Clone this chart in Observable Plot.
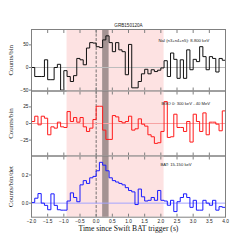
<!DOCTYPE html>
<html><head><meta charset="utf-8">
<script src="https://cdn.jsdelivr.net/npm/d3@7"></script>
<script src="https://cdn.jsdelivr.net/npm/@observablehq/plot@0.6"></script>
<style>
html,body{margin:0;padding:0;background:#fff;}
#chart{position:relative;width:249px;height:249px;overflow:hidden;}
#chart svg{position:absolute;left:0;top:0;}
</style></head><body><div id="chart"></div>
<script>
const title = "GRB150120A";
const xLabel = "Time since Swift BAT trigger (s)";
const binStart = -2.0;
const binWidth = 0.1;
const naiCounts = [0,-20,-20,-20,17,-27,-27,0,7,-50, -7,-20,-31,-18,20,17,6,43,55,54, 46,44,61,70,55,35,55,39,35,-16, 51,-45,-45,-31,-14,-4,-14,-5,-9,-6, -1,15,-20,32,18,-24,17,-24,39,-5, 18,13,46,24,-5,24,20,-10,20,16];
const naiOffChart = -80;
const bgoCounts = [3,11,-2,11,8,-17,-5,-7,2,-5, -6,18,3,9,2,9,-5,-12,-7,6, 26,26,-10,-24,-24,12,10,3,1,3, 11,-10,-8,7,-1,-4,-17,-20,-30,-29, -12,33,-21,-20,14,-6,-6,-12,3,-28, 14,3,-12,16,-17,2,2,-1,-11,19];
const batRate = [0.005,0.035,0.068,0.0,-0.016,-0.047,0.066,-0.016,-0.047,-0.05, -0.05,0.015,0.073,0.04,0.01,0.13,0.16,0.14,0.18,0.19, 0.23,0.29,0.27,0.23,0.18,0.16,0.15,0.14,0.13,0.11, 0.09,0.08,-0.01,0.1,0.045,0.015,0.02,0.04,0.02,0.09, 0.02,0.015,-0.015,0.02,-0.06,0.01,0.04,0.066,0.04,-0.03, 0.02,-0.05,-0.05,0.02,0.0,-0.015,0.02,-0.05,-0.025,-0.03];
const xTicks = [-2,-1.5,-1,-0.5,0,0.5,1,1.5,2,2.5,3,3.5,4];
const naiTicks = [-50,0,50];
const bgoTicks = [-25,0,25];
const batTicks = [0,0.2];
const burstWindow = [-0.9, 2.1];
const peakWindow = [0.2, 0.4];
const labels = {nai:"NaI (n3+n4+n5): 8-800 keV", bgo:"BGO 0: 300 keV - 40 MeV", bat:"BAT: 15-150 keV"};

function series(vals, lead, tail){
  const pts = vals.map((v,i)=>({t: binStart + i*binWidth, v}));
  const end = binStart + vals.length*binWidth;
  if (lead !== undefined) pts.unshift({t: binStart - binWidth, v: lead});
  pts.push({t: end, v: tail !== undefined ? tail : vals[vals.length-1]});
  return pts;
}

function panel(o){
  const marks = [
    Plot.rect([burstWindow], {x1: d=>d[0], x2: d=>d[1], fill: "#fde2e2"}),
    Plot.rect([peakWindow], {x1: d=>d[0], x2: d=>d[1], fill: "#a49393"}),
    Plot.ruleX([0], {stroke: "#555", strokeWidth: 0.8, strokeDasharray: "3,1.5"}),
    Plot.ruleY([0], {stroke: o.zero, strokeWidth: 1}),
    Plot.line(o.data, {x: "t", y: "v", curve: "step-after", stroke: o.color, strokeWidth: 1, clip: true}),
    Plot.frame({stroke: "#808080", strokeWidth: 1}),
    Plot.axisX({anchor: "bottom", ticks: xTicks, tickSize: -3, tickFormat: () => "", label: null, stroke: "#808080"}),
    Plot.axisX({anchor: "top", ticks: xTicks, tickSize: -3, tickFormat: () => "", label: null, stroke: "#808080"}),
    Plot.axisY({ticks: o.yTicks, tickSize: 2, tickPadding: 1, tickFormat: o.fmt, label: null, fontSize: 4.8, stroke: "#808080"}),
    Plot.text([o.yLabel], {frameAnchor: "left", dx: -21, rotate: -90, textAnchor: "middle", lineAnchor: "middle", fontSize: 7, fontFamily: "Liberation Serif", fill: "#222"}),
    Plot.text([o.legend], {frameAnchor: "top-left", dx: o.ldx, dy: o.ldy, textAnchor: "start", lineAnchor: "middle", fontSize: 4.2, fill: "#222"})
  ];
  if (o.showX) {
    marks.push(Plot.axisX({anchor: "bottom", ticks: xTicks, tickSize: 0, tickPadding: 2.5, tickFormat: d3.format(".1f"), label: null, fontSize: 4.8}));
    marks.push(Plot.text([xLabel], {frameAnchor: "bottom", dy: 11.5, textAnchor: "middle", lineAnchor: "middle", fontSize: 7.6, fontFamily: "Liberation Serif", fill: "#111"}));
  }
  if (o.title) {
    marks.push(Plot.text([o.title], {frameAnchor: "top", dy: -4, textAnchor: "middle", lineAnchor: "middle", fontSize: 4.6, fill: "#222"}));
  }
  return Plot.plot({
    width: 249, height: 249,
    marginLeft: 31, marginRight: 24, marginTop: o.top, marginBottom: 249 - o.bottom,
    style: {background: "transparent", overflow: "visible", fontFamily: "Liberation Sans, Arial, sans-serif", color: "#222"},
    x: {domain: [-2, 4]},
    y: {domain: o.yDomain},
    marks
  });
}

const chart = document.getElementById("chart");
chart.append(panel({data: series(naiCounts, naiOffChart, naiOffChart), color: "#111", zero: "#bdbdbd", yDomain: [-52, 84], yTicks: naiTicks, fmt: d3.format("d"), yLabel: "Counts/bin", legend: labels.nai, ldx: 127, ldy: 11.5, top: 29, bottom: 90.5, title}));
chart.append(panel({data: series(bgoCounts), color: "#ff1a1a", zero: "#f7a3a3", yDomain: [-49, 49], yTicks: bgoTicks, fmt: d3.format("d"), yLabel: "Counts/bin", legend: labels.bgo, ldx: 130, ldy: 13, top: 90.5, bottom: 155.5}));
chart.append(panel({data: series(batRate), color: "#1a1aff", zero: "#a3a3ff", yDomain: [-0.1, 0.335], yTicks: batTicks, fmt: d3.format(".1f"), yLabel: "Counts/bin/det", legend: labels.bat, ldx: 129, ldy: 9, top: 155.5, bottom: 216.7, showX: true}));
</script></body></html>
